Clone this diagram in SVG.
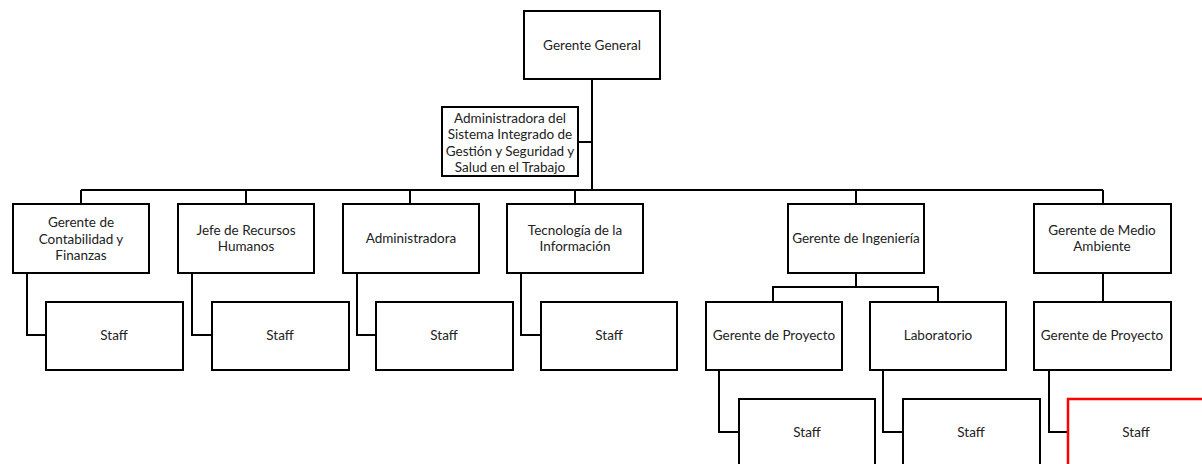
<svg xmlns="http://www.w3.org/2000/svg" width="1202" height="464" viewBox="0 0 1202 464">
<style>
.box{fill:#fff;stroke:#000;stroke-width:2}
.red{fill:#fff;stroke:#f00;stroke-width:2.5}
.t{font-family:Lato,"Open Sans","Liberation Sans",sans-serif;font-size:13.5px;fill:#222;text-anchor:middle}
.c{fill:none;stroke:#000;stroke-width:2}
</style>
<rect width="1202" height="464" fill="#fff"/>
<g id="connectors" class="c">
<path d="M592 79V190"/>
<path d="M578 142H592"/>
<path d="M81 190H1103"/>
<path d="M81 190V204M246 190V204M410 190V204M575 190V204M856 190V204M1103 190V204"/>
<path d="M27 273V335H46"/>
<path d="M192 273V335H212"/>
<path d="M357 273V335H376"/>
<path d="M521 273V335H541"/>
<path d="M856 273V287M773 302V287H938V302"/>
<path d="M1103 273V302"/>
<path d="M719 370V432H739"/>
<path d="M883 370V432H903"/>
<path d="M1049 370V432H1068"/>
</g>
<g id="gerente-general"><rect class="box" x="524" y="11" width="136" height="68"/><text class="t" x="592" y="50">Gerente General</text></g>
<g id="admin-sig"><rect class="box" x="442" y="107" width="136" height="69"/><text class="t" x="510" y="123">Administradora del</text><text class="t" x="510" y="139">Sistema Integrado de</text><text class="t" x="510" y="156">Gestión y Seguridad y</text><text class="t" x="510" y="172">Salud en el Trabajo</text></g>
<g id="contabilidad"><rect class="box" x="13" y="204" width="136" height="69"/><text class="t" x="81" y="227">Gerente de</text><text class="t" x="81" y="244">Contabilidad y</text><text class="t" x="81" y="260">Finanzas</text></g>
<g id="rrhh"><rect class="box" x="178" y="204" width="136" height="69"/><text class="t" x="246" y="235">Jefe de Recursos</text><text class="t" x="246" y="251">Humanos</text></g>
<g id="administradora"><rect class="box" x="343" y="204" width="136" height="69"/><text class="t" x="411" y="243">Administradora</text></g>
<g id="ti"><rect class="box" x="507" y="204" width="136" height="69"/><text class="t" x="575" y="235">Tecnología de la</text><text class="t" x="575" y="251">Información</text></g>
<g id="ingenieria"><rect class="box" x="788" y="204" width="136" height="69"/><text class="t" x="856" y="243">Gerente de Ingeniería</text></g>
<g id="medio-ambiente"><rect class="box" x="1034" y="204" width="137" height="69"/><text class="t" x="1102" y="235">Gerente de Medio</text><text class="t" x="1102" y="251">Ambiente</text></g>
<g id="staff1"><rect class="box" x="46" y="302" width="137" height="68"/><text class="t" x="114" y="340">Staff</text></g>
<g id="staff2"><rect class="box" x="212" y="302" width="137" height="68"/><text class="t" x="280" y="340">Staff</text></g>
<g id="staff3"><rect class="box" x="376" y="302" width="137" height="68"/><text class="t" x="444" y="340">Staff</text></g>
<g id="staff4"><rect class="box" x="541" y="302" width="136" height="68"/><text class="t" x="609" y="340">Staff</text></g>
<g id="gp-ing"><rect class="box" x="706" y="302" width="136" height="68"/><text class="t" x="774" y="340">Gerente de Proyecto</text></g>
<g id="laboratorio"><rect class="box" x="870" y="302" width="136" height="68"/><text class="t" x="938" y="340">Laboratorio</text></g>
<g id="gp-ma"><rect class="box" x="1034" y="302" width="137" height="68"/><text class="t" x="1102" y="340">Gerente de Proyecto</text></g>
<g id="staff5"><rect class="box" x="739" y="399" width="136" height="70"/><text class="t" x="807" y="437">Staff</text></g>
<g id="staff6"><rect class="box" x="903" y="399" width="137" height="70"/><text class="t" x="971" y="437">Staff</text></g>
<g id="staff7"><rect class="red" x="1068" y="399" width="136" height="70"/><text class="t" x="1136" y="437">Staff</text></g>
</svg>
